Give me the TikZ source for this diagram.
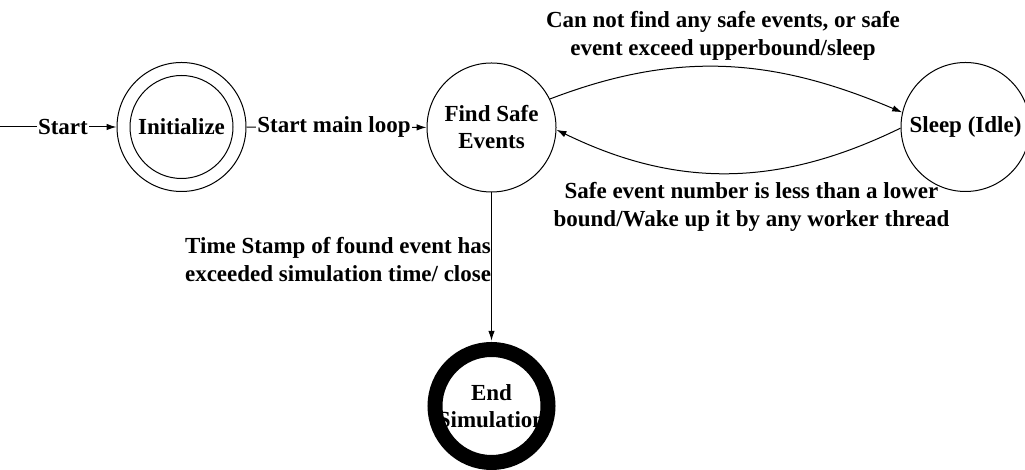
\documentclass[tikz,border=0pt]{standalone}
\usepackage{fontspec}
\setmainfont{Liberation Serif}
\usetikzlibrary{arrows.meta}
\tikzset{
  state/.style={circle, draw, line width=1pt, minimum size=129pt, inner sep=0pt,
                align=center, font=\fontsize{23}{27}\selectfont\bfseries},
  endstate/.style={circle, minimum size=113pt, inner sep=0pt, outer sep=7.5pt,
                align=center, font=\fontsize{23}{27}\selectfont\bfseries},
  ring/.style={line width=15pt},
  trans/.style={line width=1pt, -{Latex[length=10pt,width=6.5pt]}},
  lbl/.style={align=center, font=\fontsize{23}{28}\selectfont\bfseries},
  onlbl/.style={fill=white, inner sep=1pt, font=\fontsize{23}{27}\selectfont\bfseries}
}
\begin{document}
\begin{tikzpicture}[x=1pt,y=1pt]
\useasboundingbox (0,0) rectangle (1025,470);

% states
\coordinate (entry) at (0,343);
\node[state] (init) at (181.5,343) {Initialize};
\draw[line width=1pt] (init.center) circle[radius=51.5];
\node[state] (find) at (491.5,342.5) {Find Safe\\Events};
\node[state] (sleep) at (965.5,343) {Sleep (Idle)};
\node[endstate] (end) at (491.5,64) {End\\Simulation};
\draw[ring] (end.center) circle[radius=56.5];

% transitions
\draw[trans] (entry) -- node[onlbl, pos=0.54] {Start} (init);
\draw[trans] (init) -- node[onlbl, pos=0.486] {Start main loop} (find);
\draw[trans] (find.26) to[out=21, in=157] (sleep.167);
\draw[trans] (sleep.181) to[out=206, in=-26] (find.-2);
\draw[trans] (find) -- node[lbl, anchor=east, inner sep=0pt, pos=0.45]
  {Time Stamp of found event has\\exceeded simulation time/ close} (end);

% transition labels
\node[lbl] (uplbl) at (723,434.3) {Can not find any safe events, or safe\\event exceed upperbound/sleep};
\node[lbl] (downlbl) at (751.5,263.3) {Safe event number is less than a lower\\bound/Wake up it by any worker thread};
\end{tikzpicture}
\end{document}
